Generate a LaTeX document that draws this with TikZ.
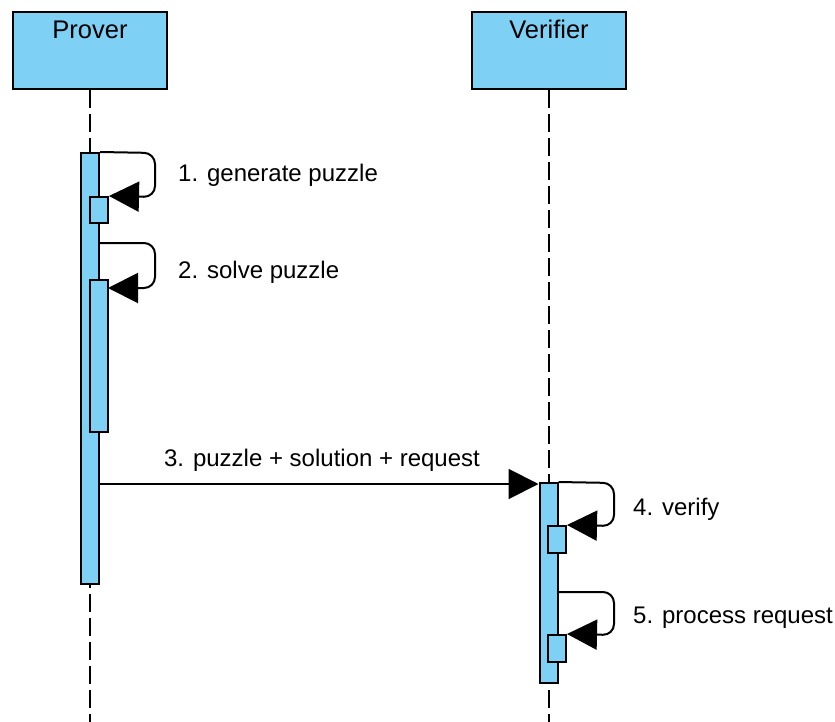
\documentclass[tikz,border=0pt]{standalone}
\usepackage{fontspec}
\setmainfont{Liberation Sans}
\usetikzlibrary{arrows.meta}
\definecolor{actfill}{RGB}{127,208,245}
\tikzset{
  actor/.style={draw=black, fill=actfill, line width=2pt, minimum width=154pt, minimum height=77pt, inner sep=0pt},
  activation/.style={draw=black, fill=actfill, line width=2pt, minimum width=18pt, inner sep=0pt},
  lifeline/.style={draw=black, line width=2pt, dash pattern=on 18pt off 6pt},
  msg/.style={draw=black, line width=2pt, rounded corners=11pt, -{Triangle[length=30pt,width=30pt]}},
  txt/.style={font=\fontsize{24}{28}\selectfont, inner sep=0pt, anchor=base west},
  ctxt/.style={font=\fontsize{24}{28}\selectfont, inner sep=0pt, anchor=base},
  atxt/.style={font=\fontsize{25.5}{30}\selectfont, inner sep=0pt, anchor=base}
}
\begin{document}
\begin{tikzpicture}[x=1pt,y=-1pt]
\useasboundingbox (0,0) rectangle (835,722);
% actors
\node[actor] (prover) at (90,50.5) {};
\node[actor] (verifier) at (549,50.5) {};
\node[atxt] (proverlabel) at (90,39) {Prover};
\node[atxt] (verifierlabel) at (549,39) {Verifier};
% lifelines
\coordinate (proverend) at (90,722);
\coordinate (verifierend) at (549,722);
\draw[lifeline] (prover.south) -- (proverend);
\draw[lifeline] (verifier.south) -- (verifierend);
% activations
\node[activation, minimum height=431pt] (pa) at (90,368.5) {};
\node[activation, minimum height=26pt] (pa1) at (99,210) {};
\node[activation, minimum height=152pt] (pa2) at (99,356) {};
\node[activation, minimum height=200pt] (va) at (548.5,583) {};
\node[activation, minimum height=27pt] (va1) at (557,539.5) {};
\node[activation, minimum height=27pt] (va2) at (557,648.5) {};
% loop 1
\draw[msg] (pa.north east) -- (155,153) -- (155,197) -- (pa1.north east);
\node[txt] (l1) at (178,182) {1. generate puzzle};
% loop 2
\coordinate (s2) at (99,243);
\coordinate (e2) at (108,288);
\draw[msg] (s2) -- (155,243) -- (155,288) -- (e2);
\node[txt] (l2) at (178,278) {2. solve puzzle};
% message 3
\coordinate (s3) at (99,484);
\draw[msg] (s3) -- (va.north west |- s3);
\node[ctxt] (l3) at (322,466) {3. puzzle + solution + request};
% loop 4
\draw[msg] (va.north east) -- (614,483) -- (614,526) -- (va1.north east);
\node[txt] (l4) at (633,515) {4. verify};
% loop 5
\coordinate (s5) at (557.5,592);
\draw[msg] (s5) -- (614,592) -- (614,635) -- (va2.north east);
\node[txt] (l5) at (633,623) {5. process request};
\end{tikzpicture}
\end{document}
